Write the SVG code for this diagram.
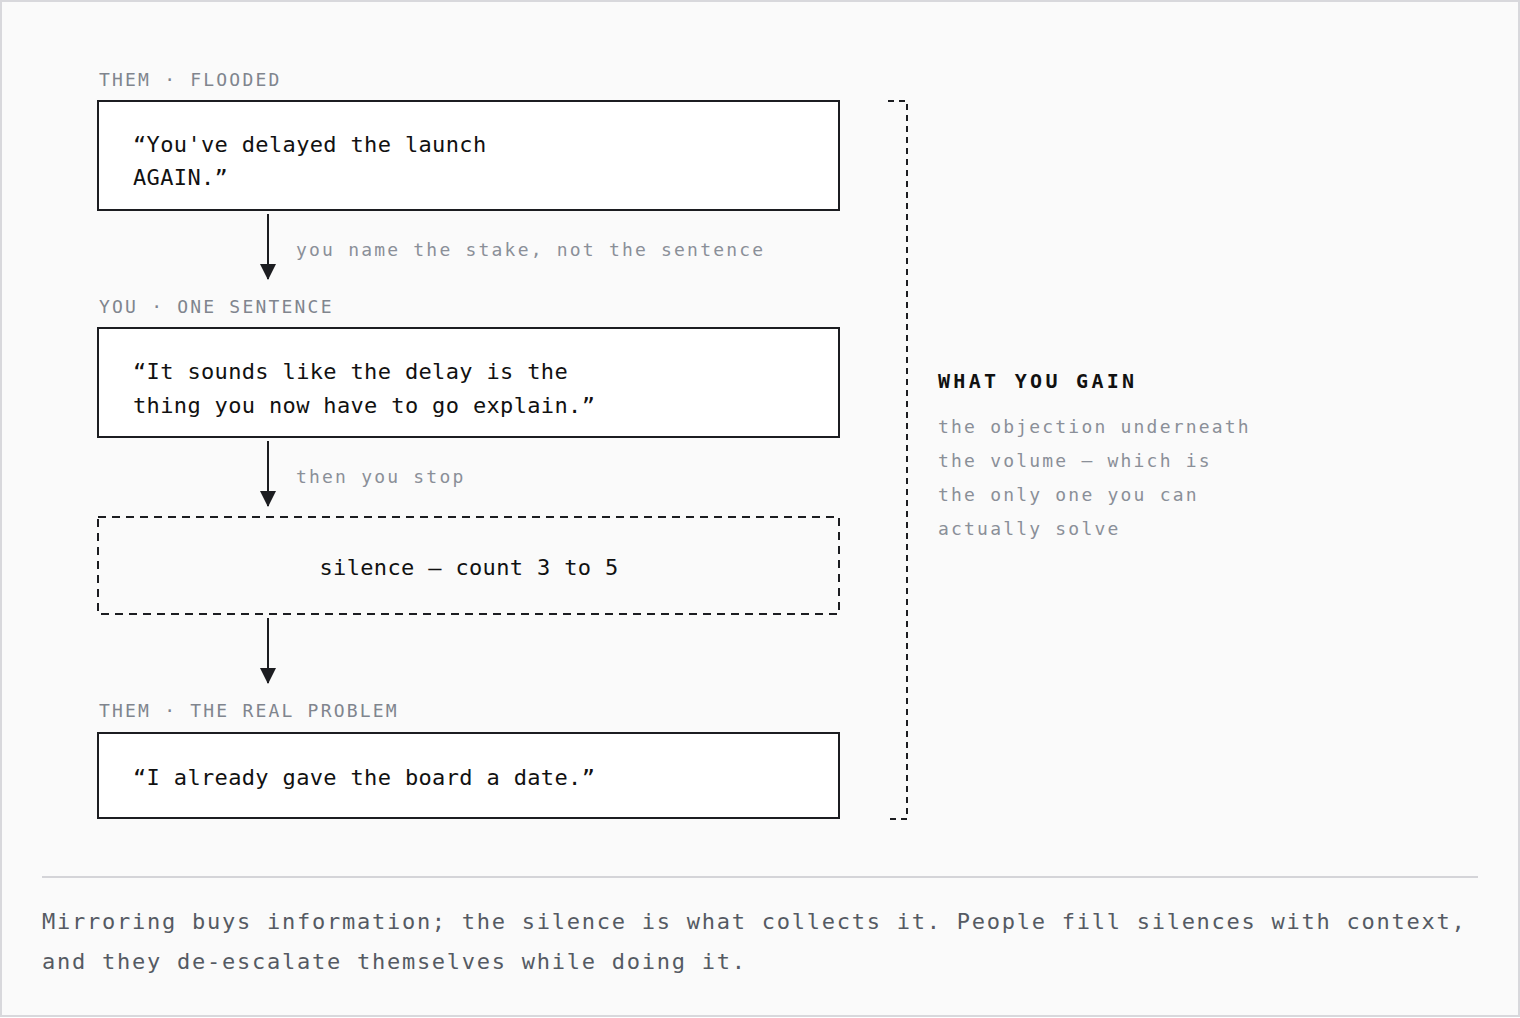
<svg xmlns="http://www.w3.org/2000/svg" width="1520" height="1018" viewBox="0 0 1520 1018">
<style>
text{font-family:"DejaVu Sans Mono","Liberation Mono",monospace}
.lab{font-size:18px;letter-spacing:2.2px;fill:#80858e}
.box{fill:#fff;stroke:#1c1d21;stroke-width:2}
.q{font-size:22px;letter-spacing:0.35px;fill:#111}
.side{font-size:18px;letter-spacing:2.2px;fill:#8a8f98}
.cap{font-size:22px;letter-spacing:1.75px;fill:#555a63}
</style>
<defs><marker id="a" markerWidth="16" markerHeight="16" refX="15" refY="8" orient="auto" markerUnits="userSpaceOnUse"><path d="M0,0 L16,8 L0,16 Z" fill="#1c1d21"/></marker></defs>
<rect x="1" y="1" width="1518" height="1015" fill="#fafafa" stroke="#d8d8dc" stroke-width="2"/>
<g id="n1"><text class="lab" x="99" y="86">THEM · FLOODED</text><rect class="box" x="98" y="101" width="741" height="109"/><text class="q" x="133" y="152">“You've delayed the launch</text><text class="q" x="133" y="185">AGAIN.”</text></g>
<g id="n2"><text class="lab" x="99" y="313">YOU · ONE SENTENCE</text><rect class="box" x="98" y="328" width="741" height="109"/><text class="q" x="133" y="379">“It sounds like the delay is the</text><text class="q" x="133" y="413">thing you now have to go explain.”</text></g>
<g id="n3"><rect x="98" y="517" width="741" height="97" fill="none" stroke="#1c1d21" stroke-width="2" stroke-dasharray="8 6"/><text class="q" x="469" y="575" text-anchor="middle">silence — count 3 to 5</text></g>
<g id="n4"><text class="lab" x="99" y="717">THEM · THE REAL PROBLEM</text><rect class="box" x="98" y="733" width="741" height="85"/><text class="q" x="133" y="785">“I already gave the board a date.”</text></g>
<g id="gain"><path d="M888,101 H907 V819 H888" fill="none" stroke="#1c1d21" stroke-width="2" stroke-dasharray="6 5"/>
<text x="938" y="388" font-size="20" font-weight="bold" letter-spacing="3.3" fill="#111">WHAT YOU GAIN</text>
<text class="side" x="938" y="433">the objection underneath</text><text class="side" x="938" y="467">the volume — which is</text><text class="side" x="938" y="501">the only one you can</text><text class="side" x="938" y="535">actually solve</text></g>
<g id="connectors" stroke="#1c1d21" stroke-width="2">
<line x1="268" y1="214" x2="268" y2="279" marker-end="url(#a)"/>
<line x1="268" y1="441" x2="268" y2="506" marker-end="url(#a)"/>
<line x1="268" y1="618" x2="268" y2="683" marker-end="url(#a)"/>
</g>
<text class="side" x="296" y="256">you name the stake, not the sentence</text>
<text class="side" x="296" y="483">then you stop</text>
<line x1="42" y1="877" x2="1478" y2="877" stroke="#d4d4d8" stroke-width="2"/>
<text class="cap" x="42" y="929">Mirroring buys information; the silence is what collects it. People fill silences with context,</text>
<text class="cap" x="42" y="969">and they de-escalate themselves while doing it.</text>
</svg>
